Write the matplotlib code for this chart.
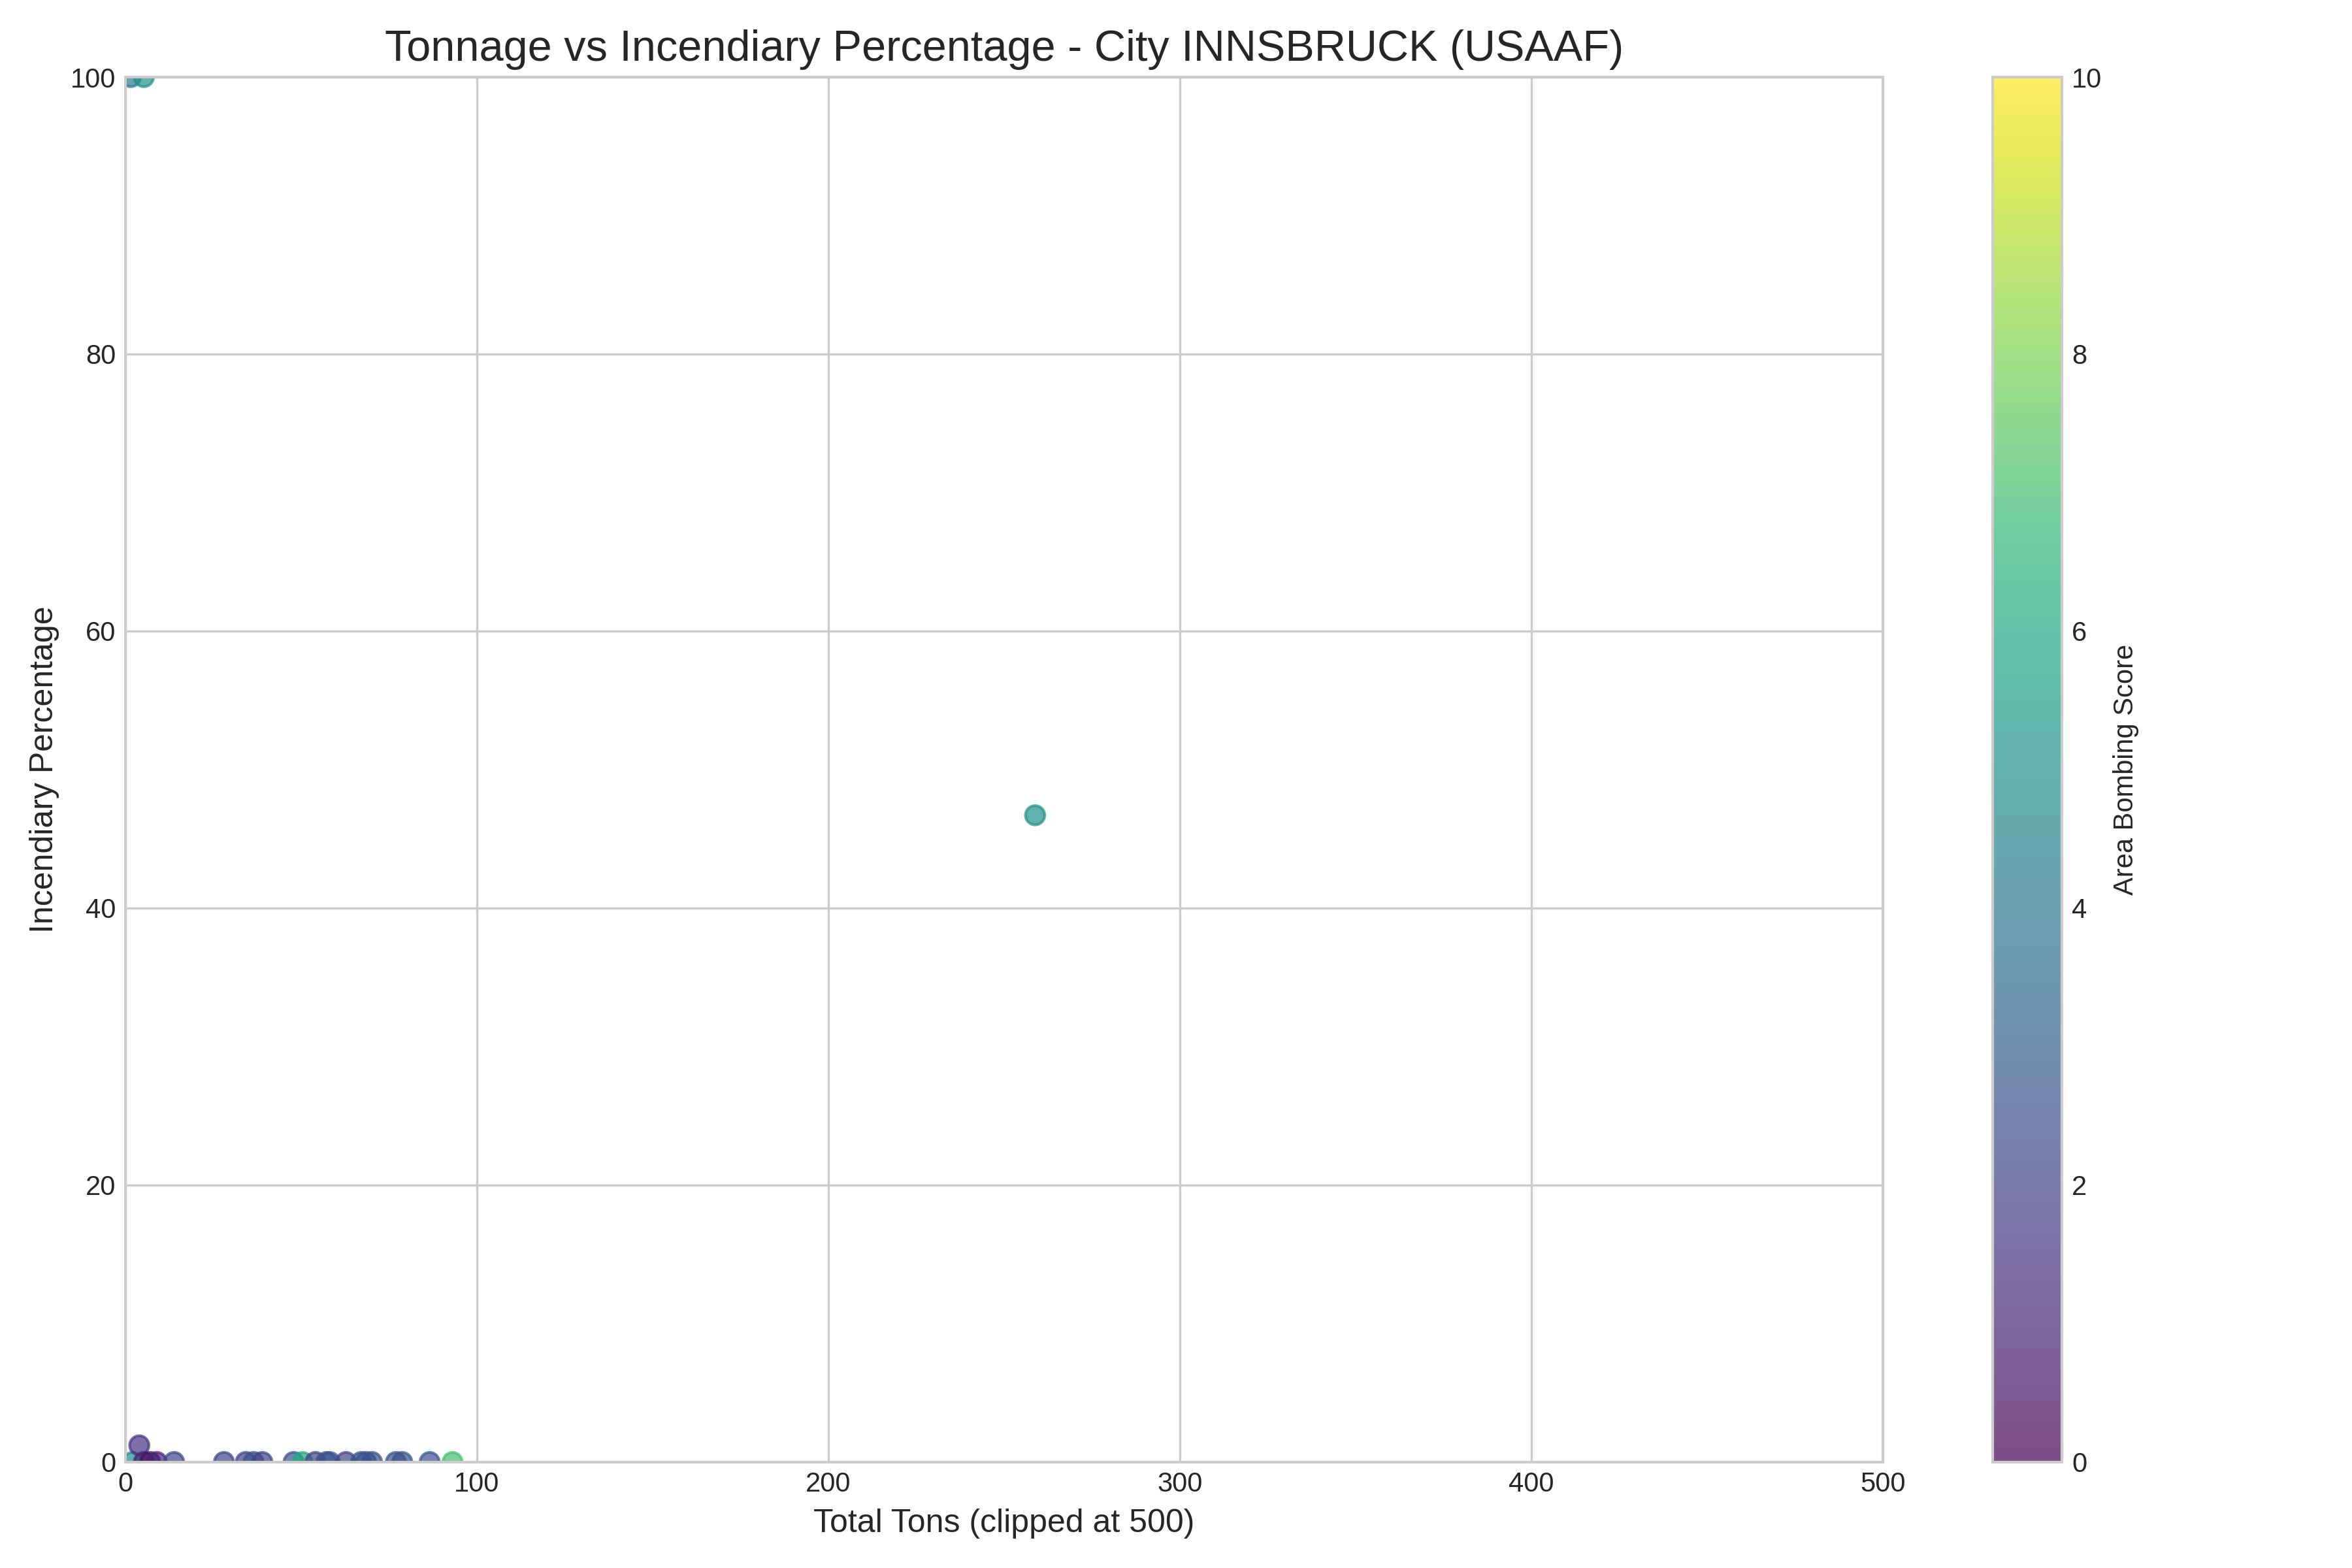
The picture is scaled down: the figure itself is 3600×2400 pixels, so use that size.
import numpy as np
import matplotlib
matplotlib.use("Agg")
import matplotlib.pyplot as plt

# values
total_tons = [1.6, 5.3, 258.8,
              2.1, 4.0, 5.3, 7.1, 9.0, 13.9, 28.1,
              34.3, 36.5, 39.0, 47.9, 50.4, 54.1,
              57.2, 58.2, 62.8, 67.1, 68.5, 70.2,
              77.0, 78.8, 86.6, 93.1]
incendiary_pct = [100, 100, 46.7,
                  0, 1.2, 0, 0, 0, 0, 0,
                  0, 0, 0, 0, 0, 0,
                  0, 0, 0, 0, 0, 0,
                  0, 0, 0, 0]
area_score = [4.0, 5.0, 5.0,
              5.0, 1.5, 1.0, 0.5, 1.0, 2.0, 2.0,
              2.0, 2.5, 2.0, 2.5, 6.0, 2.0,
              2.5, 2.5, 2.0, 2.5, 2.5, 2.5,
              2.5, 2.5, 2.5, 7.0]

plt.style.use('seaborn-v0_8-whitegrid')
plt.rcParams['font.family'] = ['Liberation Sans', 'DejaVu Sans']

fig, ax = plt.subplots(figsize=(12, 8), dpi=300)
sc = ax.scatter(total_tons, incendiary_pct, c=area_score, cmap='viridis',
                vmin=0, vmax=10, alpha=0.7, s=50)

ax.set_xlim(0, 500)
ax.set_ylim(0, 100)
ax.set_title("Tonnage vs Incendiary Percentage - City INNSBRUCK (USAAF)", fontsize=16)
ax.set_xlabel("Total Tons (clipped at 500)", fontsize=12)
ax.set_ylabel("Incendiary Percentage", fontsize=12)
ax.tick_params(labelsize=10)

cbar = fig.colorbar(sc, ax=ax)
cbar.set_label("Area Bombing Score", fontsize=10)
cbar.ax.tick_params(labelsize=10)

plt.tight_layout()
plt.savefig("out.png", dpi=300)
